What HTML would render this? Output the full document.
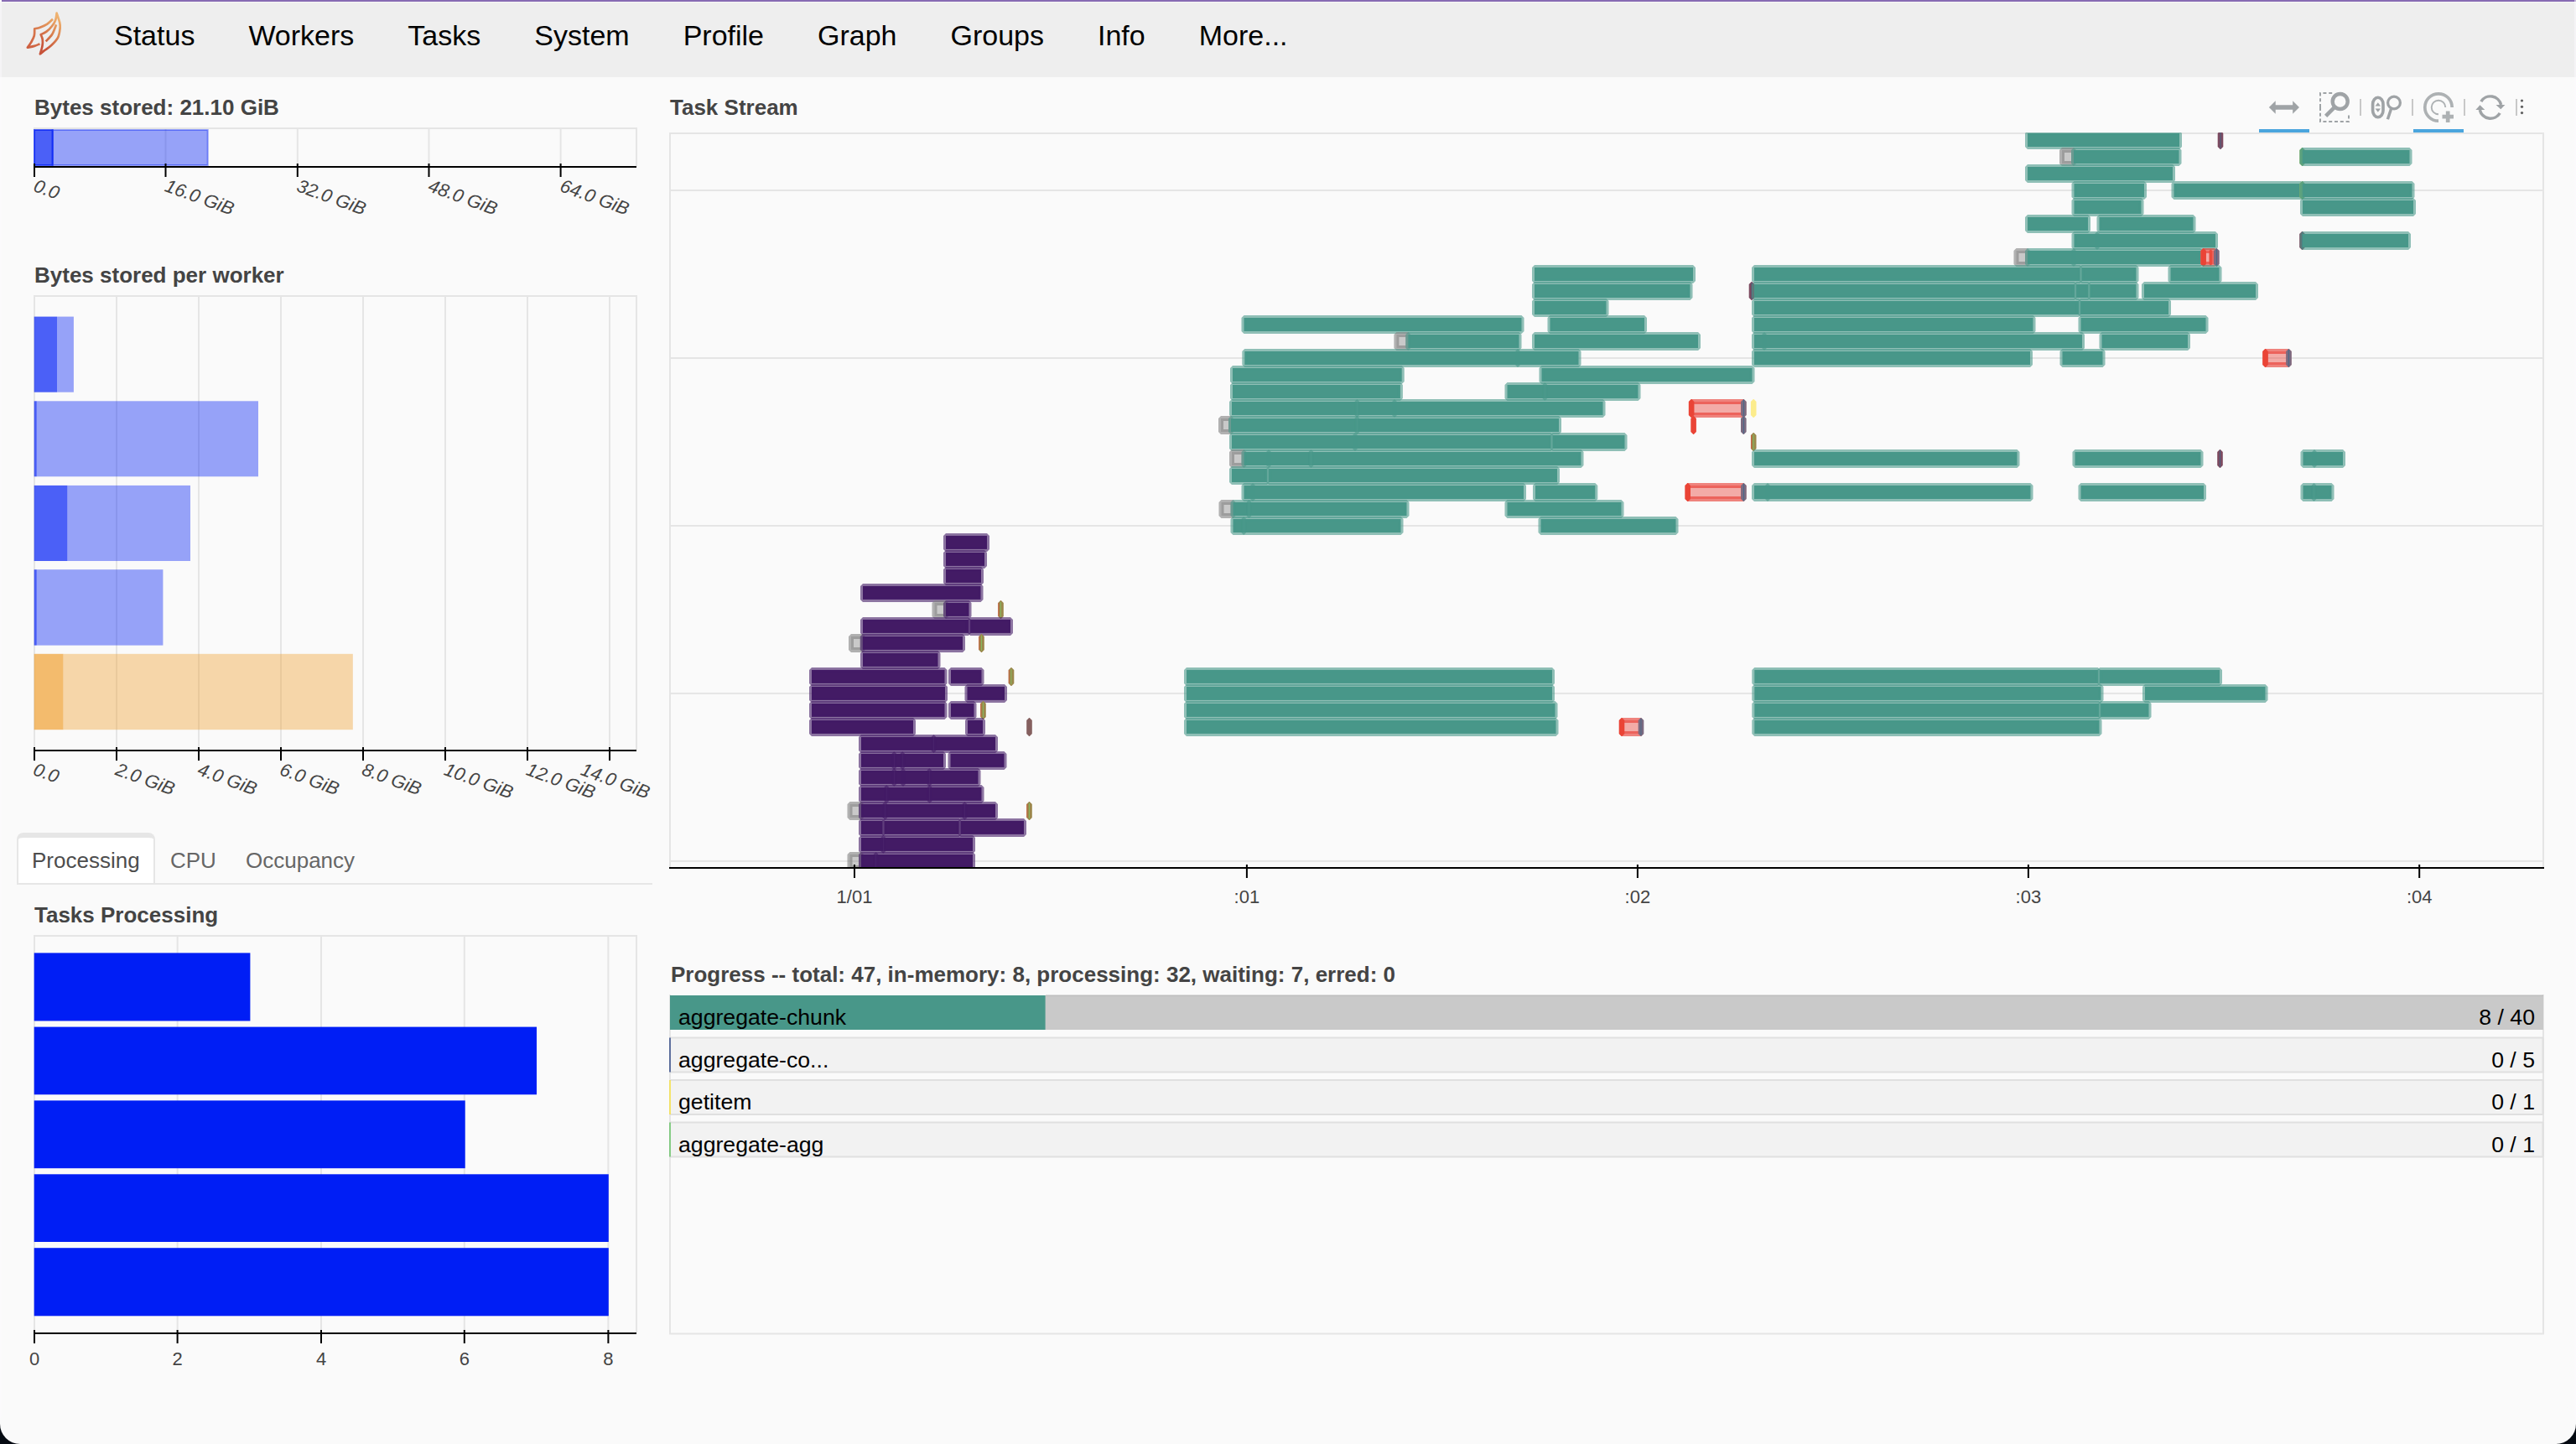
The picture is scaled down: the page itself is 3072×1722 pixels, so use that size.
<!DOCTYPE html>
<html><head><meta charset="utf-8"><title>Dask: Status</title>
<style>
html,body{margin:0;padding:0;}
body{width:3072px;height:1722px;overflow:hidden;background:#fafafa;position:relative;font-family:"Liberation Sans",sans-serif;}
#topline{position:absolute;left:2px;top:0;width:3070px;height:2px;background:#876bb3;}
#topline2{position:absolute;left:0;top:2px;width:3072px;height:1px;background:rgba(255,255,255,0.45);}
.edge{position:absolute;top:0;width:2px;height:1722px;background:rgba(252,250,254,0.5);}
#navbar{position:absolute;left:0;top:2px;width:3072px;height:90px;background:#eeeeee;}
#navbar ul{list-style:none;margin:0;padding:0;position:absolute;left:104px;top:0;display:flex;}
#navbar li a{display:block;color:#000;text-decoration:none;font-size:34px;line-height:39px;padding:21px 32px 30px 32px;white-space:nowrap;}
#tabs{position:absolute;left:20px;top:993px;width:758px;height:60px;border-bottom:2px solid #e6e6e6;font-size:26px;}
#tabs .tab{position:absolute;top:0;height:45px;line-height:36px;padding:15px 16px 0 16px;color:#666;white-space:nowrap;}
#tabs .tab.active{background:#fff;color:#4d4d4d;border:2px solid #e6e6e6;border-top:6px solid #e6e6e6;border-bottom:none;border-radius:8px 8px 0 0;height:45px;padding:9px 16px 0 16px;}
svg{position:absolute;left:0;top:0;}
svg text{font-family:"Liberation Sans",sans-serif;}
.corner{position:absolute;bottom:0;width:24px;height:24px;background:#050a12;}
.corner i{position:absolute;display:block;width:48px;height:48px;border-radius:50%;background:#fafafa;bottom:0;}
</style></head><body>
<div id="topline"></div>
<div id="navbar"><ul>
<li><a>Status</a></li><li><a>Workers</a></li><li><a>Tasks</a></li><li><a>System</a></li><li><a>Profile</a></li><li><a>Graph</a></li><li><a>Groups</a></li><li><a>Info</a></li><li><a>More...</a></li>
</ul></div>
<div id="tabs"><div class="tab active" style="left:0">Processing</div><div class="tab" style="left:167px">CPU</div><div class="tab" style="left:257px">Occupancy</div></div>
<div id="topline2"></div><div class="edge" style="left:0"></div><div class="edge" style="right:0"></div>
<div class="corner" style="left:0"><i style="left:0"></i></div>
<div class="corner" style="right:0"><i style="right:0"></i></div>
<svg width="3072" height="1722" viewBox="0 0 3072 1722">
<defs><linearGradient id="lg1" gradientUnits="userSpaceOnUse" x1="47" y1="52" x2="73" y2="24"><stop offset="0" stop-color="#c7533a"/><stop offset="0.5" stop-color="#d9804f"/><stop offset="1" stop-color="#efb270"/></linearGradient><linearGradient id="lg2" gradientUnits="userSpaceOnUse" x1="33" y1="56" x2="63" y2="23"><stop offset="0" stop-color="#cd5f41"/><stop offset="0.5" stop-color="#d87a4e"/><stop offset="1" stop-color="#e9a564"/></linearGradient></defs>
<g fill="none" stroke-width="2.7" stroke-linejoin="round" stroke-linecap="butt">
<path d="M67.60 15.60 C68.21 17.53 70.58 24.12 71.25 27.16 C71.92 30.20 72.00 30.86 71.63 33.81 C71.26 36.77 70.76 41.52 69.03 44.89 C67.30 48.26 63.99 51.45 61.27 54.03 C58.55 56.62 54.92 58.69 52.69 60.40 C50.46 62.11 48.70 63.65 47.90 64.30 C48.33 62.73 49.99 57.73 50.47 54.86 C50.95 51.99 51.05 49.39 50.75 47.11 C50.45 44.83 49.04 42.19 48.70 41.20 C49.83 40.62 53.23 39.38 55.46 37.69 C57.70 36.00 60.31 33.35 62.11 31.04 C63.91 28.73 65.34 26.41 66.26 23.84 C67.18 21.27 67.38 16.97 67.60 15.60 Z" stroke="url(#lg1)"/>
<path d="M54.63 49.32 C55.88 47.94 60.03 44.33 62.11 41.01 C64.19 37.69 66.26 31.32 67.09 29.38" stroke="url(#lg1)"/>
<path d="M62.94 22.73 C61.78 23.75 58.55 27.16 56.01 28.82 C53.47 30.48 50.17 31.79 47.70 32.70 C45.23 33.61 42.28 34.03 41.20 34.30 C41.13 35.70 41.45 39.98 40.78 42.67 C40.11 45.36 38.50 48.09 37.17 50.43 C35.84 52.77 33.53 55.66 32.80 56.70 C34.17 56.39 38.61 55.58 41.05 54.86 C43.49 54.14 46.36 52.78 47.42 52.37" stroke="url(#lg2)"/>
</g>
<text x="41" y="137" font-size="26" font-weight="bold" fill="#444444">Bytes stored: 21.10 GiB</text>
<rect x="196.5" y="153" width="2" height="46" fill="#e5e5e5"/>
<rect x="353.8" y="153" width="2" height="46" fill="#e5e5e5"/>
<rect x="510.5" y="153" width="2" height="46" fill="#e5e5e5"/>
<rect x="667.6" y="153" width="2" height="46" fill="#e5e5e5"/>
<rect x="40" y="152" width="720" height="2" fill="#e5e5e5"/>
<rect x="40" y="152" width="2" height="46" fill="#e5e5e5"/>
<rect x="758" y="152" width="2" height="46" fill="#e5e5e5"/>
<rect x="41" y="155" width="21.7" height="42" fill="#001ef5" fill-opacity="0.7" stroke="#001ef5" stroke-opacity="0.7" stroke-width="2"/>
<rect x="62.7" y="155" width="185" height="42" fill="#001ef5" fill-opacity="0.4" stroke="#001ef5" stroke-opacity="0.4" stroke-width="2"/>
<rect x="40" y="198" width="719" height="2" fill="#000"/>
<rect x="40" y="195" width="2" height="16" fill="#000"/>
<text transform="translate(38.8,227.5) rotate(20)" font-size="22" font-style="italic" fill="#444444">0.0</text>
<rect x="196.5" y="195" width="2" height="16" fill="#000"/>
<text transform="translate(195.3,227.5) rotate(20)" font-size="22" font-style="italic" fill="#444444">16.0 GiB</text>
<rect x="353.8" y="195" width="2" height="16" fill="#000"/>
<text transform="translate(352.6,227.5) rotate(20)" font-size="22" font-style="italic" fill="#444444">32.0 GiB</text>
<rect x="510.5" y="195" width="2" height="16" fill="#000"/>
<text transform="translate(509.3,227.5) rotate(20)" font-size="22" font-style="italic" fill="#444444">48.0 GiB</text>
<rect x="667.6" y="195" width="2" height="16" fill="#000"/>
<text transform="translate(666.4,227.5) rotate(20)" font-size="22" font-style="italic" fill="#444444">64.0 GiB</text>
<text x="41" y="337" font-size="26" font-weight="bold" fill="#444444">Bytes stored per worker</text>
<rect x="138" y="353" width="2" height="542" fill="#e5e5e5"/>
<rect x="236" y="353" width="2" height="542" fill="#e5e5e5"/>
<rect x="334" y="353" width="2" height="542" fill="#e5e5e5"/>
<rect x="432" y="353" width="2" height="542" fill="#e5e5e5"/>
<rect x="530" y="353" width="2" height="542" fill="#e5e5e5"/>
<rect x="628" y="353" width="2" height="542" fill="#e5e5e5"/>
<rect x="726" y="353" width="2" height="542" fill="#e5e5e5"/>
<rect x="40" y="352" width="720" height="2" fill="#e5e5e5"/>
<rect x="40" y="352" width="2" height="542" fill="#e5e5e5"/>
<rect x="758" y="352" width="2" height="542" fill="#e5e5e5"/>
<rect x="40.7" y="377.6" width="27.3" height="90.1" fill="#001ef5" fill-opacity="0.7"/>
<rect x="68" y="377.6" width="19.9" height="90.1" fill="#001ef5" fill-opacity="0.4"/>
<rect x="40.7" y="478.3" width="3.1" height="90" fill="#001ef5" fill-opacity="0.7"/>
<rect x="43.8" y="478.3" width="264.2" height="90" fill="#001ef5" fill-opacity="0.4"/>
<rect x="40.7" y="578.9" width="39.7" height="90.1" fill="#001ef5" fill-opacity="0.7"/>
<rect x="80.4" y="578.9" width="146.6" height="90.1" fill="#001ef5" fill-opacity="0.4"/>
<rect x="40.7" y="679.2" width="3.1" height="90.4" fill="#001ef5" fill-opacity="0.7"/>
<rect x="43.8" y="679.2" width="150.6" height="90.4" fill="#001ef5" fill-opacity="0.4"/>
<rect x="40.7" y="779.8" width="34.8" height="90.4" fill="#f0a030" fill-opacity="0.7"/>
<rect x="75.5" y="779.8" width="345.3" height="90.4" fill="#f0a030" fill-opacity="0.4"/>
<rect x="40" y="894" width="719" height="2" fill="#000"/>
<rect x="40" y="891" width="2" height="16" fill="#000"/>
<text transform="translate(38.2,923.5) rotate(20)" font-size="22" font-style="italic" fill="#444444">0.0</text>
<rect x="138" y="891" width="2" height="16" fill="#000"/>
<text transform="translate(136.2,923.5) rotate(20)" font-size="22" font-style="italic" fill="#444444">2.0 GiB</text>
<rect x="236" y="891" width="2" height="16" fill="#000"/>
<text transform="translate(234.2,923.5) rotate(20)" font-size="22" font-style="italic" fill="#444444">4.0 GiB</text>
<rect x="334" y="891" width="2" height="16" fill="#000"/>
<text transform="translate(332.2,923.5) rotate(20)" font-size="22" font-style="italic" fill="#444444">6.0 GiB</text>
<rect x="432" y="891" width="2" height="16" fill="#000"/>
<text transform="translate(430.2,923.5) rotate(20)" font-size="22" font-style="italic" fill="#444444">8.0 GiB</text>
<rect x="530" y="891" width="2" height="16" fill="#000"/>
<text transform="translate(528.2,923.5) rotate(20)" font-size="22" font-style="italic" fill="#444444">10.0 GiB</text>
<rect x="628" y="891" width="2" height="16" fill="#000"/>
<text transform="translate(626.2,923.5) rotate(20)" font-size="22" font-style="italic" fill="#444444">12.0 GiB</text>
<rect x="726" y="891" width="2" height="16" fill="#000"/>
<text transform="translate(691.2,923.5) rotate(20)" font-size="22" font-style="italic" fill="#444444">14.0 GiB</text>
<text x="41" y="1100" font-size="26" font-weight="bold" fill="#444444">Tasks Processing</text>
<rect x="210.6" y="1116" width="2" height="474" fill="#e5e5e5"/>
<rect x="382" y="1116" width="2" height="474" fill="#e5e5e5"/>
<rect x="552.8" y="1116" width="2" height="474" fill="#e5e5e5"/>
<rect x="724.4" y="1116" width="2" height="474" fill="#e5e5e5"/>
<rect x="40" y="1115" width="720" height="2" fill="#e5e5e5"/>
<rect x="40" y="1115" width="2" height="474" fill="#e5e5e5"/>
<rect x="758" y="1115" width="2" height="474" fill="#e5e5e5"/>
<rect x="40.7" y="1136.4" width="257.7" height="81.1" fill="#001ef5"/>
<rect x="40.7" y="1224.6" width="599.3" height="80.7" fill="#001ef5"/>
<rect x="40.7" y="1312.4" width="514" height="80.8" fill="#001ef5"/>
<rect x="40.7" y="1400.3" width="685.1" height="80.7" fill="#001ef5"/>
<rect x="40.7" y="1488.2" width="685.1" height="81.1" fill="#001ef5"/>
<rect x="40" y="1589" width="719" height="2" fill="#000"/>
<rect x="40" y="1586" width="2" height="16" fill="#000"/>
<text x="41" y="1628" text-anchor="middle" font-size="22" fill="#444444">0</text>
<rect x="210.6" y="1586" width="2" height="16" fill="#000"/>
<text x="211.6" y="1628" text-anchor="middle" font-size="22" fill="#444444">2</text>
<rect x="382" y="1586" width="2" height="16" fill="#000"/>
<text x="383" y="1628" text-anchor="middle" font-size="22" fill="#444444">4</text>
<rect x="552.8" y="1586" width="2" height="16" fill="#000"/>
<text x="553.8" y="1628" text-anchor="middle" font-size="22" fill="#444444">6</text>
<rect x="724.4" y="1586" width="2" height="16" fill="#000"/>
<text x="725.4" y="1628" text-anchor="middle" font-size="22" fill="#444444">8</text>
<defs><clipPath id="tsclip"><rect x="798" y="158" width="2236" height="877"/></clipPath></defs>
<rect x="800" y="226" width="2232" height="2" fill="#e5e5e5"/>
<rect x="800" y="426" width="2232" height="2" fill="#e5e5e5"/>
<rect x="800" y="626" width="2232" height="2" fill="#e5e5e5"/>
<rect x="800" y="825.9" width="2232" height="2" fill="#e5e5e5"/>
<rect x="800" y="1025.9" width="2232" height="2" fill="#e5e5e5"/>
<rect x="798" y="158" width="2236" height="2" fill="#e5e5e5"/>
<rect x="798" y="158" width="2" height="876" fill="#e5e5e5"/>
<rect x="3032" y="158" width="2" height="876" fill="#e5e5e5"/>
<g clip-path="url(#tsclip)" stroke-linejoin="bevel" stroke-width="6">
<rect x="2418" y="159" width="181" height="16" fill="#489789" stroke="#489789" stroke-opacity="0.6"/>
<rect x="2647.7" y="159" width="0.6" height="16" fill="#7c4a60" stroke="#7c4a60"/>
<rect x="2647.6" y="157" width="0.9" height="20" fill="#3a6a8c" fill-opacity="0.85" stroke="none"/>
<rect x="2459" y="179" width="14" height="16" fill="#808080" fill-opacity="0.4" stroke="#808080" stroke-opacity="0.6"/>
<rect x="2473" y="179" width="125.5" height="16" fill="#489789" stroke="#489789" stroke-opacity="0.6"/>
<rect x="2745.2" y="179" width="0.6" height="16" fill="#78b070" stroke="#78b070"/>
<rect x="2745.8" y="179" width="127.7" height="16" fill="#489789" stroke="#489789" stroke-opacity="0.6"/>
<rect x="2418" y="199" width="173" height="16" fill="#489789" stroke="#489789" stroke-opacity="0.6"/>
<rect x="2473.5" y="219" width="83.5" height="16" fill="#489789" stroke="#489789" stroke-opacity="0.6"/>
<rect x="2592.5" y="219" width="151.5" height="16" fill="#489789" stroke="#489789" stroke-opacity="0.6"/>
<rect x="2745.2" y="219" width="0.6" height="16" fill="#78b070" stroke="#78b070"/>
<rect x="2745.8" y="219" width="130.7" height="16" fill="#489789" stroke="#489789" stroke-opacity="0.6"/>
<rect x="2473.5" y="239" width="80" height="16" fill="#489789" stroke="#489789" stroke-opacity="0.6"/>
<rect x="2746" y="239" width="132" height="16" fill="#489789" stroke="#489789" stroke-opacity="0.6"/>
<rect x="2418" y="259" width="72" height="16" fill="#489789" stroke="#489789" stroke-opacity="0.6"/>
<rect x="2503.5" y="259" width="112" height="16" fill="#489789" stroke="#489789" stroke-opacity="0.6"/>
<rect x="2473.5" y="279" width="27.5" height="16" fill="#489789" stroke="#489789" stroke-opacity="0.6"/>
<rect x="2501" y="279" width="141" height="16" fill="#489789" stroke="#489789" stroke-opacity="0.6"/>
<rect x="2745.2" y="279" width="0.6" height="16" fill="#7c4a60" stroke="#7c4a60"/>
<rect x="2745.1" y="277" width="0.9" height="20" fill="#3a6a8c" fill-opacity="0.85" stroke="none"/>
<rect x="2745.8" y="279" width="126.2" height="16" fill="#489789" stroke="#489789" stroke-opacity="0.6"/>
<rect x="2404.5" y="299" width="13.5" height="16" fill="#808080" fill-opacity="0.4" stroke="#808080" stroke-opacity="0.6"/>
<rect x="2418" y="299" width="55" height="16" fill="#489789" stroke="#489789" stroke-opacity="0.6"/>
<rect x="2473" y="299" width="151" height="16" fill="#489789" stroke="#489789" stroke-opacity="0.6"/>
<rect x="2627.6" y="299" width="13.4" height="16" fill="#e8342a" fill-opacity="0.4" stroke="#e8342a" stroke-opacity="0.6"/>
<rect x="2627.3" y="299" width="0.6" height="16" fill="#ea4436" stroke="#ea4436"/>
<rect x="2636" y="299" width="0.6" height="16" fill="#ec4a3c" stroke="#ec4a3c" stroke-width="3"/>
<rect x="2643.1" y="299" width="0.6" height="16" fill="#7b6a80" stroke="#7b6a80"/>
<rect x="2643" y="297" width="0.9" height="20" fill="#3a6a8c" fill-opacity="0.85" stroke="none"/>
<rect x="1830" y="319" width="189" height="16" fill="#489789" stroke="#489789" stroke-opacity="0.6"/>
<rect x="2092" y="319" width="388.4" height="16" fill="#489789" stroke="#489789" stroke-opacity="0.6"/>
<rect x="2482.6" y="319" width="64.9" height="16" fill="#489789" stroke="#489789" stroke-opacity="0.6"/>
<rect x="2588.5" y="319" width="58" height="16" fill="#489789" stroke="#489789" stroke-opacity="0.6"/>
<rect x="1830" y="339" width="185.5" height="16" fill="#489789" stroke="#489789" stroke-opacity="0.6"/>
<rect x="2088.7" y="339" width="0.6" height="16" fill="#7c4a60" stroke="#7c4a60"/>
<rect x="2088.6" y="337" width="0.9" height="20" fill="#3a6a8c" fill-opacity="0.85" stroke="none"/>
<rect x="2092" y="339" width="381.9" height="16" fill="#489789" stroke="#489789" stroke-opacity="0.6"/>
<rect x="2476.1" y="339" width="14.1" height="16" fill="#489789" stroke="#489789" stroke-opacity="0.6"/>
<rect x="2492.4" y="339" width="55.1" height="16" fill="#489789" stroke="#489789" stroke-opacity="0.6"/>
<rect x="2557" y="339" width="133" height="16" fill="#489789" stroke="#489789" stroke-opacity="0.6"/>
<rect x="1830" y="359" width="85.5" height="16" fill="#489789" stroke="#489789" stroke-opacity="0.6"/>
<rect x="2092" y="359" width="386.9" height="16" fill="#489789" stroke="#489789" stroke-opacity="0.6"/>
<rect x="2481.1" y="359" width="104.9" height="16" fill="#489789" stroke="#489789" stroke-opacity="0.6"/>
<rect x="1483.5" y="379" width="331" height="16" fill="#489789" stroke="#489789" stroke-opacity="0.6"/>
<rect x="1848.5" y="379" width="112.5" height="16" fill="#489789" stroke="#489789" stroke-opacity="0.6"/>
<rect x="2092" y="379" width="332.5" height="16" fill="#489789" stroke="#489789" stroke-opacity="0.6"/>
<rect x="2481.5" y="379" width="149" height="16" fill="#489789" stroke="#489789" stroke-opacity="0.6"/>
<rect x="1665.4" y="399" width="13.9" height="16" fill="#808080" fill-opacity="0.4" stroke="#808080" stroke-opacity="0.6"/>
<rect x="1679.3" y="399" width="132.2" height="16" fill="#489789" stroke="#489789" stroke-opacity="0.6"/>
<rect x="1830" y="399" width="195" height="16" fill="#489789" stroke="#489789" stroke-opacity="0.6"/>
<rect x="2092" y="399" width="12" height="16" fill="#489789" stroke="#489789" stroke-opacity="0.6"/>
<rect x="2104" y="399" width="379" height="16" fill="#489789" stroke="#489789" stroke-opacity="0.6"/>
<rect x="2506.5" y="399" width="102.5" height="16" fill="#489789" stroke="#489789" stroke-opacity="0.6"/>
<rect x="1484.3" y="419" width="325.7" height="16" fill="#489789" stroke="#489789" stroke-opacity="0.6"/>
<rect x="1810" y="419" width="72.5" height="16" fill="#489789" stroke="#489789" stroke-opacity="0.6"/>
<rect x="2092" y="419" width="329" height="16" fill="#489789" stroke="#489789" stroke-opacity="0.6"/>
<rect x="2459.5" y="419" width="48" height="16" fill="#489789" stroke="#489789" stroke-opacity="0.6"/>
<rect x="2701.5" y="419" width="28" height="16" fill="#e8342a" fill-opacity="0.4" stroke="#e8342a" stroke-opacity="0.6"/>
<rect x="2701.2" y="419" width="0.6" height="16" fill="#ea4436" stroke="#ea4436"/>
<rect x="2729.2" y="419" width="0.6" height="16" fill="#7b6a80" stroke="#7b6a80"/>
<rect x="2729.1" y="417" width="0.9" height="20" fill="#3a6a8c" fill-opacity="0.85" stroke="none"/>
<rect x="1470" y="439" width="201.7" height="16" fill="#489789" stroke="#489789" stroke-opacity="0.6"/>
<rect x="1838.5" y="439" width="251" height="16" fill="#489789" stroke="#489789" stroke-opacity="0.6"/>
<rect x="1470" y="459" width="199.9" height="16" fill="#489789" stroke="#489789" stroke-opacity="0.6"/>
<rect x="1797.5" y="459" width="44.8" height="16" fill="#489789" stroke="#489789" stroke-opacity="0.6"/>
<rect x="1842.3" y="459" width="111.2" height="16" fill="#489789" stroke="#489789" stroke-opacity="0.6"/>
<rect x="1469" y="479" width="149.3" height="16" fill="#489789" stroke="#489789" stroke-opacity="0.6"/>
<rect x="1618.3" y="479" width="44.7" height="16" fill="#489789" stroke="#489789" stroke-opacity="0.6"/>
<rect x="1663" y="479" width="248.5" height="16" fill="#489789" stroke="#489789" stroke-opacity="0.6"/>
<rect x="2017.1" y="479" width="62.3" height="16" fill="#e8342a" fill-opacity="0.4" stroke="#e8342a" stroke-opacity="0.6"/>
<rect x="2016.8" y="479" width="0.6" height="16" fill="#ea4436" stroke="#ea4436"/>
<rect x="2079.1" y="479" width="0.6" height="16" fill="#7b6a80" stroke="#7b6a80"/>
<rect x="2079" y="477" width="0.9" height="20" fill="#3a6a8c" fill-opacity="0.85" stroke="none"/>
<rect x="2090.9" y="479" width="0.6" height="16" fill="#fcec8c" stroke="#fcec8c"/>
<rect x="1456" y="499" width="12" height="16" fill="#808080" fill-opacity="0.4" stroke="#808080" stroke-opacity="0.6"/>
<rect x="1468" y="499" width="150.3" height="16" fill="#489789" stroke="#489789" stroke-opacity="0.6"/>
<rect x="1618.3" y="499" width="240.7" height="16" fill="#489789" stroke="#489789" stroke-opacity="0.6"/>
<rect x="2019.3" y="499" width="0.6" height="16" fill="#ea4436" stroke="#ea4436"/>
<rect x="2079" y="499" width="0.6" height="16" fill="#7b6a80" stroke="#7b6a80"/>
<rect x="2078.9" y="497" width="0.9" height="20" fill="#3a6a8c" fill-opacity="0.85" stroke="none"/>
<rect x="1469" y="519" width="147" height="16" fill="#489789" stroke="#489789" stroke-opacity="0.6"/>
<rect x="1616" y="519" width="233.4" height="16" fill="#489789" stroke="#489789" stroke-opacity="0.6"/>
<rect x="1851.6" y="519" width="85.9" height="16" fill="#489789" stroke="#489789" stroke-opacity="0.6"/>
<rect x="2090.9" y="519" width="0.6" height="16" fill="#9b874b" stroke="#9b874b"/>
<rect x="2088" y="519" width="0.9" height="16" fill="#d9523c" fill-opacity="0.8" stroke="none"/>
<rect x="2090.8" y="518" width="0.9" height="18" fill="#7fc865" fill-opacity="0.85" stroke="none"/>
<rect x="1469" y="539" width="14.5" height="16" fill="#808080" fill-opacity="0.4" stroke="#808080" stroke-opacity="0.6"/>
<rect x="1483.5" y="539" width="29.5" height="16" fill="#489789" stroke="#489789" stroke-opacity="0.6"/>
<rect x="1513" y="539" width="50.5" height="16" fill="#489789" stroke="#489789" stroke-opacity="0.6"/>
<rect x="1563.5" y="539" width="322" height="16" fill="#489789" stroke="#489789" stroke-opacity="0.6"/>
<rect x="2092" y="539" width="313.5" height="16" fill="#489789" stroke="#489789" stroke-opacity="0.6"/>
<rect x="2474.5" y="539" width="150" height="16" fill="#489789" stroke="#489789" stroke-opacity="0.6"/>
<rect x="2647.2" y="539" width="0.6" height="16" fill="#7c4a60" stroke="#7c4a60"/>
<rect x="2647.1" y="537" width="0.9" height="20" fill="#3a6a8c" fill-opacity="0.85" stroke="none"/>
<rect x="2746.5" y="539" width="13.5" height="16" fill="#489789" stroke="#489789" stroke-opacity="0.6"/>
<rect x="2760" y="539" width="34" height="16" fill="#489789" stroke="#489789" stroke-opacity="0.6"/>
<rect x="1469" y="559" width="41.9" height="16" fill="#489789" stroke="#489789" stroke-opacity="0.6"/>
<rect x="1513.1" y="559" width="343.9" height="16" fill="#489789" stroke="#489789" stroke-opacity="0.6"/>
<rect x="1483.5" y="579" width="10.5" height="16" fill="#489789" stroke="#489789" stroke-opacity="0.6"/>
<rect x="1494" y="579" width="323" height="16" fill="#489789" stroke="#489789" stroke-opacity="0.6"/>
<rect x="1831" y="579" width="71.3" height="16" fill="#489789" stroke="#489789" stroke-opacity="0.6"/>
<rect x="2012.7" y="579" width="66.7" height="16" fill="#e8342a" fill-opacity="0.4" stroke="#e8342a" stroke-opacity="0.6"/>
<rect x="2012.4" y="579" width="0.6" height="16" fill="#ea4436" stroke="#ea4436"/>
<rect x="2079.1" y="579" width="0.6" height="16" fill="#7b6a80" stroke="#7b6a80"/>
<rect x="2079" y="577" width="0.9" height="20" fill="#3a6a8c" fill-opacity="0.85" stroke="none"/>
<rect x="2092" y="579" width="16" height="16" fill="#489789" stroke="#489789" stroke-opacity="0.6"/>
<rect x="2108" y="579" width="313.5" height="16" fill="#489789" stroke="#489789" stroke-opacity="0.6"/>
<rect x="2481.5" y="579" width="146.5" height="16" fill="#489789" stroke="#489789" stroke-opacity="0.6"/>
<rect x="2746.5" y="579" width="13" height="16" fill="#489789" stroke="#489789" stroke-opacity="0.6"/>
<rect x="2759.5" y="579" width="21" height="16" fill="#489789" stroke="#489789" stroke-opacity="0.6"/>
<rect x="1456.5" y="599" width="14" height="16" fill="#808080" fill-opacity="0.4" stroke="#808080" stroke-opacity="0.6"/>
<rect x="1470.5" y="599" width="19" height="16" fill="#489789" stroke="#489789" stroke-opacity="0.6"/>
<rect x="1489.5" y="599" width="188" height="16" fill="#489789" stroke="#489789" stroke-opacity="0.6"/>
<rect x="1797.5" y="599" width="136" height="16" fill="#489789" stroke="#489789" stroke-opacity="0.6"/>
<rect x="1470.5" y="619" width="12.7" height="16" fill="#489789" stroke="#489789" stroke-opacity="0.6"/>
<rect x="1483.2" y="619" width="187.3" height="16" fill="#489789" stroke="#489789" stroke-opacity="0.6"/>
<rect x="1837.5" y="619" width="161" height="16" fill="#489789" stroke="#489789" stroke-opacity="0.6"/>
<rect x="1128" y="638.9" width="49" height="16" fill="#431b65" stroke="#431b65" stroke-opacity="0.6"/>
<rect x="1128" y="658.9" width="46" height="16" fill="#431b65" stroke="#431b65" stroke-opacity="0.6"/>
<rect x="1128" y="678.9" width="42" height="16" fill="#431b65" stroke="#431b65" stroke-opacity="0.6"/>
<rect x="1029" y="698.9" width="140.5" height="16" fill="#431b65" stroke="#431b65" stroke-opacity="0.6"/>
<rect x="1114.5" y="718.9" width="13.5" height="16" fill="#808080" fill-opacity="0.4" stroke="#808080" stroke-opacity="0.6"/>
<rect x="1128" y="718.9" width="27.5" height="16" fill="#431b65" stroke="#431b65" stroke-opacity="0.6"/>
<rect x="1193.2" y="718.9" width="0.6" height="16" fill="#9b874b" stroke="#9b874b"/>
<rect x="1190.3" y="718.9" width="0.9" height="16" fill="#d9523c" fill-opacity="0.8" stroke="none"/>
<rect x="1193" y="717.9" width="0.9" height="18" fill="#7fc865" fill-opacity="0.85" stroke="none"/>
<rect x="1029" y="738.9" width="125.9" height="16" fill="#431b65" stroke="#431b65" stroke-opacity="0.6"/>
<rect x="1157.1" y="738.9" width="47.9" height="16" fill="#431b65" stroke="#431b65" stroke-opacity="0.6"/>
<rect x="1015" y="758.9" width="13.8" height="16" fill="#808080" fill-opacity="0.4" stroke="#808080" stroke-opacity="0.6"/>
<rect x="1028.8" y="758.9" width="119.2" height="16" fill="#431b65" stroke="#431b65" stroke-opacity="0.6"/>
<rect x="1170.2" y="758.9" width="0.6" height="16" fill="#9b874b" stroke="#9b874b"/>
<rect x="1167.3" y="758.9" width="0.9" height="16" fill="#d9523c" fill-opacity="0.8" stroke="none"/>
<rect x="1170" y="757.9" width="0.9" height="18" fill="#7fc865" fill-opacity="0.85" stroke="none"/>
<rect x="1029" y="778.9" width="89.5" height="16" fill="#431b65" stroke="#431b65" stroke-opacity="0.6"/>
<rect x="968" y="798.9" width="158.5" height="16" fill="#431b65" stroke="#431b65" stroke-opacity="0.6"/>
<rect x="1134" y="798.9" width="36.5" height="16" fill="#431b65" stroke="#431b65" stroke-opacity="0.6"/>
<rect x="1205.7" y="798.9" width="0.6" height="16" fill="#9b874b" stroke="#9b874b"/>
<rect x="1202.8" y="798.9" width="0.9" height="16" fill="#d9523c" fill-opacity="0.8" stroke="none"/>
<rect x="1205.5" y="797.9" width="0.9" height="18" fill="#7fc865" fill-opacity="0.85" stroke="none"/>
<rect x="1415" y="798.9" width="436" height="16" fill="#489789" stroke="#489789" stroke-opacity="0.6"/>
<rect x="2092.3" y="798.9" width="409.6" height="16" fill="#489789" stroke="#489789" stroke-opacity="0.6"/>
<rect x="2504.1" y="798.9" width="142.9" height="16" fill="#489789" stroke="#489789" stroke-opacity="0.6"/>
<rect x="968" y="818.9" width="159" height="16" fill="#431b65" stroke="#431b65" stroke-opacity="0.6"/>
<rect x="1153.5" y="818.9" width="44.5" height="16" fill="#431b65" stroke="#431b65" stroke-opacity="0.6"/>
<rect x="1415" y="818.9" width="436" height="16" fill="#489789" stroke="#489789" stroke-opacity="0.6"/>
<rect x="2092.3" y="818.9" width="413.2" height="16" fill="#489789" stroke="#489789" stroke-opacity="0.6"/>
<rect x="2558" y="818.9" width="143.5" height="16" fill="#489789" stroke="#489789" stroke-opacity="0.6"/>
<rect x="968" y="838.9" width="158.5" height="16" fill="#431b65" stroke="#431b65" stroke-opacity="0.6"/>
<rect x="1134" y="838.9" width="27.5" height="16" fill="#431b65" stroke="#431b65" stroke-opacity="0.6"/>
<rect x="1172.2" y="838.9" width="0.6" height="16" fill="#9b874b" stroke="#9b874b"/>
<rect x="1169.3" y="838.9" width="0.9" height="16" fill="#d9523c" fill-opacity="0.8" stroke="none"/>
<rect x="1172" y="837.9" width="0.9" height="18" fill="#7fc865" fill-opacity="0.85" stroke="none"/>
<rect x="1415" y="838.9" width="439.5" height="16" fill="#489789" stroke="#489789" stroke-opacity="0.6"/>
<rect x="2092.3" y="838.9" width="410.6" height="16" fill="#489789" stroke="#489789" stroke-opacity="0.6"/>
<rect x="2505.1" y="838.9" width="57.4" height="16" fill="#489789" stroke="#489789" stroke-opacity="0.6"/>
<rect x="968" y="858.9" width="121" height="16" fill="#431b65" stroke="#431b65" stroke-opacity="0.6"/>
<rect x="1154" y="858.9" width="18" height="16" fill="#431b65" stroke="#431b65" stroke-opacity="0.6"/>
<rect x="1227.2" y="858.9" width="0.6" height="16" fill="#85605f" stroke="#85605f"/>
<rect x="1415" y="858.9" width="440.5" height="16" fill="#489789" stroke="#489789" stroke-opacity="0.6"/>
<rect x="1934" y="858.9" width="23" height="16" fill="#e8342a" fill-opacity="0.4" stroke="#e8342a" stroke-opacity="0.6"/>
<rect x="1933.7" y="858.9" width="0.6" height="16" fill="#ea4436" stroke="#ea4436"/>
<rect x="1956.7" y="858.9" width="0.6" height="16" fill="#7b6a80" stroke="#7b6a80"/>
<rect x="1956.5" y="856.9" width="0.9" height="20" fill="#3a6a8c" fill-opacity="0.85" stroke="none"/>
<rect x="2092.3" y="858.9" width="411.2" height="16" fill="#489789" stroke="#489789" stroke-opacity="0.6"/>
<rect x="1027" y="878.9" width="86.5" height="16" fill="#431b65" stroke="#431b65" stroke-opacity="0.6"/>
<rect x="1113.5" y="878.9" width="73.5" height="16" fill="#431b65" stroke="#431b65" stroke-opacity="0.6"/>
<rect x="1027" y="898.9" width="39.3" height="16" fill="#431b65" stroke="#431b65" stroke-opacity="0.6"/>
<rect x="1066.3" y="898.9" width="9.9" height="16" fill="#431b65" stroke="#431b65" stroke-opacity="0.6"/>
<rect x="1076.2" y="898.9" width="48.8" height="16" fill="#431b65" stroke="#431b65" stroke-opacity="0.6"/>
<rect x="1133.5" y="898.9" width="64" height="16" fill="#431b65" stroke="#431b65" stroke-opacity="0.6"/>
<rect x="1027" y="918.9" width="39.3" height="16" fill="#431b65" stroke="#431b65" stroke-opacity="0.6"/>
<rect x="1066.3" y="918.9" width="10.7" height="16" fill="#431b65" stroke="#431b65" stroke-opacity="0.6"/>
<rect x="1077" y="918.9" width="31.3" height="16" fill="#431b65" stroke="#431b65" stroke-opacity="0.6"/>
<rect x="1108.3" y="918.9" width="58.2" height="16" fill="#431b65" stroke="#431b65" stroke-opacity="0.6"/>
<rect x="1027" y="938.9" width="30.2" height="16" fill="#431b65" stroke="#431b65" stroke-opacity="0.6"/>
<rect x="1057.2" y="938.9" width="51.5" height="16" fill="#431b65" stroke="#431b65" stroke-opacity="0.6"/>
<rect x="1108.7" y="938.9" width="61.8" height="16" fill="#431b65" stroke="#431b65" stroke-opacity="0.6"/>
<rect x="1013.5" y="958.9" width="13.5" height="16" fill="#808080" fill-opacity="0.4" stroke="#808080" stroke-opacity="0.6"/>
<rect x="1027" y="958.9" width="28.3" height="16" fill="#431b65" stroke="#431b65" stroke-opacity="0.6"/>
<rect x="1055.3" y="958.9" width="95.1" height="16" fill="#431b65" stroke="#431b65" stroke-opacity="0.6"/>
<rect x="1150.4" y="958.9" width="36.6" height="16" fill="#431b65" stroke="#431b65" stroke-opacity="0.6"/>
<rect x="1227.2" y="958.9" width="0.6" height="16" fill="#9b874b" stroke="#9b874b"/>
<rect x="1224.3" y="958.9" width="0.9" height="16" fill="#d9523c" fill-opacity="0.8" stroke="none"/>
<rect x="1227" y="957.9" width="0.9" height="18" fill="#7fc865" fill-opacity="0.85" stroke="none"/>
<rect x="1027" y="978.9" width="25.4" height="16" fill="#431b65" stroke="#431b65" stroke-opacity="0.6"/>
<rect x="1054.6" y="978.9" width="88.9" height="16" fill="#431b65" stroke="#431b65" stroke-opacity="0.6"/>
<rect x="1145.7" y="978.9" width="75.3" height="16" fill="#431b65" stroke="#431b65" stroke-opacity="0.6"/>
<rect x="1027" y="998.9" width="26.3" height="16" fill="#431b65" stroke="#431b65" stroke-opacity="0.6"/>
<rect x="1053.3" y="998.9" width="106.7" height="16" fill="#431b65" stroke="#431b65" stroke-opacity="0.6"/>
<rect x="1013.5" y="1018.9" width="13.5" height="16" fill="#808080" fill-opacity="0.4" stroke="#808080" stroke-opacity="0.6"/>
<rect x="1027" y="1018.9" width="17.6" height="16" fill="#431b65" stroke="#431b65" stroke-opacity="0.6"/>
<rect x="1044.6" y="1018.9" width="115.4" height="16" fill="#431b65" stroke="#431b65" stroke-opacity="0.6"/>
</g>
<rect x="798" y="1034" width="2236" height="2" fill="#000"/>
<rect x="1018" y="1031" width="2" height="16" fill="#000"/>
<text x="1019" y="1077" text-anchor="middle" font-size="22" fill="#444444">1/01</text>
<rect x="1485.9" y="1031" width="2" height="16" fill="#000"/>
<text x="1486.9" y="1077" text-anchor="middle" font-size="22" fill="#444444">:01</text>
<rect x="1951.9" y="1031" width="2" height="16" fill="#000"/>
<text x="1952.9" y="1077" text-anchor="middle" font-size="22" fill="#444444">:02</text>
<rect x="2417.9" y="1031" width="2" height="16" fill="#000"/>
<text x="2418.9" y="1077" text-anchor="middle" font-size="22" fill="#444444">:03</text>
<rect x="2884.2" y="1031" width="2" height="16" fill="#000"/>
<text x="2885.2" y="1077" text-anchor="middle" font-size="22" fill="#444444">:04</text>
<text x="799" y="137" font-size="26" font-weight="bold" fill="#444444">Task Stream</text>
<rect x="2694" y="154" width="60" height="4" fill="#4aa5dd"/>
<rect x="2878" y="154" width="60" height="4" fill="#4aa5dd"/>
<rect x="2814" y="118" width="2" height="20" fill="#c8c8c8"/>
<rect x="2876" y="118" width="2" height="20" fill="#c8c8c8"/>
<rect x="2938" y="118" width="2" height="20" fill="#c8c8c8"/>
<rect x="3000" y="118" width="2" height="20" fill="#c8c8c8"/>
<path d="M2705.9 128 L2713.7 120.2 L2713.7 125.3 L2734.2 125.3 L2734.2 120.2 L2742 128 L2734.2 135.8 L2734.2 130.7 L2713.7 130.7 L2713.7 135.8 Z" fill="#9fa3a6"/>
<g fill="none" stroke="#9fa3a6">
<path d="M2767 128 L2767 111 L2782 111" stroke-width="2" stroke-dasharray="4 2.8" stroke-dashoffset="0"/>
<path d="M2767 128 L2767 145 L2801 145 L2801 135" stroke-width="2" stroke-dasharray="4 2.8"/>
<circle cx="2790.7" cy="121" r="9" stroke-width="4.4"/>
<path d="M2783.8 128.2 L2773.6 138.4" stroke-width="4.6"/>
<rect x="2829.6" y="116.2" width="12.4" height="23.6" rx="6.2" ry="8" stroke-width="3.6"/>
<circle cx="2855" cy="122.5" r="7.4" stroke-width="3.2"/>
<path d="M2851.6 129.6 L2847.4 142.2" stroke-width="3.4"/>
<path d="M2924.2 128 A16.2 16.2 0 1 0 2908 144.2" stroke-width="3.7" stroke="#adb1b3"/>
<path d="M2916.3 128 A8.3 8.3 0 1 0 2908 136.3" stroke-width="1.9" stroke="#adb1b3"/>
<path d="M2912.5 139.2 L2926 139.2 M2919.2 132.6 L2919.2 146" stroke-width="4.7" stroke="#adb1b3"/>
<path d="M2958.8 121.2 A13 13 0 0 1 2982.6 125" stroke-width="3.5"/>
<path d="M2981.2 134.8 A13 13 0 0 1 2957.3 131" stroke-width="3.5"/>
</g>
<path d="M2835.8 122.3 L2839 126.6 L2832.6 126.6 Z M2835.8 133.7 L2839 129.4 L2832.6 129.4 Z" fill="#9fa3a6"/>
<path d="M2976.5 125 L2987.4 125 L2982.3 130.2 Z" fill="#9fa3a6"/>
<path d="M2963.3 131 L2952.4 131 L2957.5 125.2 Z" fill="#9fa3a6"/>
<circle cx="3007.5" cy="120" r="1.6" fill="#5e5e5e"/>
<circle cx="3007.5" cy="127.3" r="1.6" fill="#5e5e5e"/>
<circle cx="3007.5" cy="134.6" r="1.6" fill="#5e5e5e"/>
<text x="800" y="1171" font-size="26" font-weight="bold" fill="#444444">Progress -- total: 47, in-memory: 8, processing: 32, waiting: 7, erred: 0</text>
<rect x="798" y="1186" width="2" height="405" fill="#e5e5e5"/>
<rect x="3032" y="1186" width="2" height="405" fill="#e5e5e5"/>
<rect x="798" y="1589.5" width="2236" height="2" fill="#e5e5e5"/>
<rect x="799" y="1187" width="2234" height="41" fill="#c9c9c9"/>
<rect x="1247" y="1186.5" width="1786" height="1.5" fill="#bdbdbd"/>
<rect x="799" y="1187" width="447.6" height="41" fill="#489789"/>
<text x="809" y="1222" font-size="26.67" fill="#000">aggregate-chunk</text>
<text x="3023" y="1222" font-size="26.67" text-anchor="end" fill="#000">8 / 40</text>
<rect x="799" y="1237.5" width="2234" height="41" fill="#f2f2f2"/>
<rect x="799" y="1236.5" width="2234" height="2" fill="#e0e0e0"/>
<rect x="799" y="1277.5" width="2234" height="2" fill="#e0e0e0"/>
<rect x="3031.5" y="1237.5" width="2" height="41" fill="#e0e0e0"/>
<rect x="798.2" y="1237.5" width="1.6" height="41" fill="#3b528b"/>
<text x="809" y="1272.5" font-size="26.67" fill="#000">aggregate-co...</text>
<text x="3023" y="1272.5" font-size="26.67" text-anchor="end" fill="#000">0 / 5</text>
<rect x="799" y="1288" width="2234" height="41" fill="#f2f2f2"/>
<rect x="799" y="1287" width="2234" height="2" fill="#e0e0e0"/>
<rect x="799" y="1328" width="2234" height="2" fill="#e0e0e0"/>
<rect x="3031.5" y="1288" width="2" height="41" fill="#e0e0e0"/>
<rect x="798.2" y="1288" width="1.6" height="41" fill="#f5e04a"/>
<text x="809" y="1323" font-size="26.67" fill="#000">getitem</text>
<text x="3023" y="1323" font-size="26.67" text-anchor="end" fill="#000">0 / 1</text>
<rect x="799" y="1338.5" width="2234" height="41" fill="#f2f2f2"/>
<rect x="799" y="1337.5" width="2234" height="2" fill="#e0e0e0"/>
<rect x="799" y="1378.5" width="2234" height="2" fill="#e0e0e0"/>
<rect x="3031.5" y="1338.5" width="2" height="41" fill="#e0e0e0"/>
<rect x="798.2" y="1338.5" width="1.6" height="41" fill="#6cc36a"/>
<text x="809" y="1373.5" font-size="26.67" fill="#000">aggregate-agg</text>
<text x="3023" y="1373.5" font-size="26.67" text-anchor="end" fill="#000">0 / 1</text>
</svg>
</body></html>
